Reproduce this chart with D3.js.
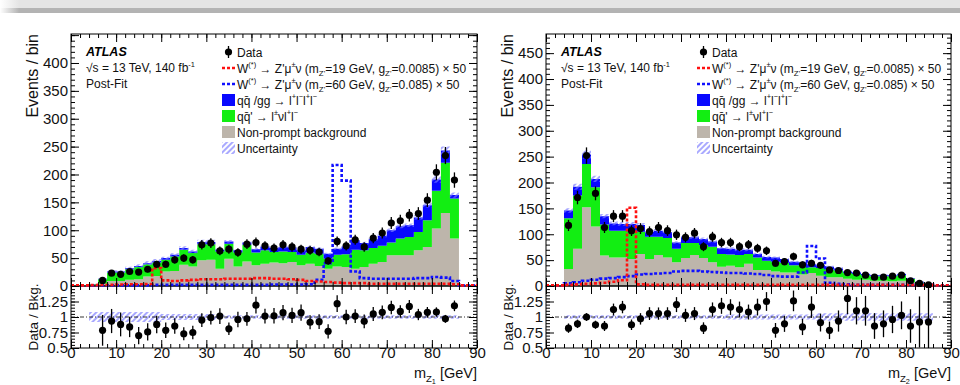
<!DOCTYPE html>
<html>
<head>
<meta charset="utf-8">
<script src="https://cdn.jsdelivr.net/npm/d3@7"></script>
<style>
  body { margin: 0; background: #fff; }
  svg { display: block; }
</style>
</head>
<body>
<svg id="fig" width="960" height="385"></svg>
<script>
// ---------- binning (GeV) ----------
const bkgBinLow = [4,6,8,10,12,14,16,18,20,22,24,26,28,30,32,34,36,38,40,42,44,46,48,50,52,54,56,58,60,62,64,66,68,70,72,74,76,78,80,82,84];
const sigBinLow = [0,2,4,6,8,10,12,14,16,18,20,22,24,26,28,30,32,34,36,38,40,42,44,46,48,50,52,54,56,58,60,62,64,66,68,70,72,74,76,78,80,82,84,86,88];
const binWidth = 2;
const xMax = 90;

// ---------- m_Z1 panel ----------
const z1NonPrompt = [1,4,9,9,11,12,17,18,26,27,38,35,46,47,31,49,35,44,37,40,42,41,43,37,40,36,31,35,34,31,34,40,43,55,55,55,64,70,103,131,85];
const z1WZ        = [2,8,15,15,19,22,22,24,21,26,27,24,29,28,31,27,25,30,23,24,19,21,18,19,20,22,18,21,23,34,30,28,29,23,30,33,33,48,68,90,72];
const z1ZZ        = [0.5,1,2,2,2,2,2,3,3,3,3,3,4,4,3,4,4,4,6,7,7,8,8,8,10,9,9,11,14,17,13,16,18,22,22,21,26,27,20,22,6];
const z1Unc       = [0.08,0.08,0.08,0.08,0.08,0.08,0.08,0.08,0.05,0.05,0.05,0.05,0.05,0.05,0.03,0.03,0.03,0.03,0.03,0.03,0.03,0.03,0.03,0.03,0.03,0.03,0.03,0.03,0.03,0.03,0.03,0.03,0.03,0.03,0.03,0.03,0.03,0.03,0.03,0.03,0.03];
const z1DataX     = [7,9,11,13,15,17,19,21,23,25,27,29,31,33,35,37,39,41,43,45,47,49,51,53,55,57,59,61,63,65,67,69,71,73,75,77,79,81,83,85];
const z1Data      = [10,23,21,26,25,30,39,39,47,50,47,74,77,63,66,60,75,78,72,68,74,70,66,64,61,45,80,72,83,70,86,95,113,117,127,130,154,204,234,190];
const z1Ratio     = [0.785,0.935,0.88,0.84,0.70,0.76,0.88,0.785,0.855,0.73,0.75,0.95,0.99,1.015,0.81,0.96,0.97,1.19,1.015,1.02,1.07,1.025,1.07,0.915,0.925,0.77,1.215,1.0,1.015,0.93,1.05,1.075,1.155,1.09,1.17,1.04,1.075,1.08,0.97,1.18];
const z1Sig19     = [0,0,0.5,1,1,1.5,2,2,2.5,31,9,8,9,10,11,11,11,12,12,12,13,13,12,12,11,10,8,7,6,5,4,4,4,3,3,3,3,3,3,3,3,3,2,0,0];
const z1Sig60     = [0,0,0,0,0,0,0,0,0,1,1,1,1,1,1,1,1,1,1,1,1,1,1.5,1.5,1.5,1.5,2,10,40,216,188,25,13,12,12,12,12,12,13,13,15,14,8,0,0];

// ---------- m_Z2 panel ----------
const z2NonPrompt = [33,72,152,115,59,55,55,52,62,52,60,55,46,54,60,54,46,37,39,36,43,31,31,28,26,26,22,25,20,17,17,14,12,12,10,10,9,10,7,4,2];
const z2WZ        = [98,103,84,76,60,52,52,53,43,43,35,38,26,29,23,25,30,25,22,24,19,24,18,19,19,14,18,11,15,15,13,11,11,9,9,9,10,11,7,3,1];
const z2ZZ        = [15,17,18,16,16,14,13,15,13,10,12,11,12,11,11,12,10,11,11,10,8,7,7,8,7,7,6,6,5,5,4,3,3,2,2,2,2,2,1,1,0.5];
const z2Unc       = [0.03,0.03,0.03,0.03,0.03,0.03,0.03,0.03,0.03,0.03,0.03,0.03,0.03,0.03,0.03,0.03,0.03,0.03,0.04,0.04,0.04,0.04,0.04,0.04,0.04,0.04,0.04,0.04,0.06,0.06,0.06,0.06,0.06,0.06,0.06,0.06,0.06,0.06,0.06,0.06,0.06];
const z2DataX     = [5,7,9,11,13,15,17,19,21,23,25,27,29,31,33,35,37,39,41,43,45,47,49,51,53,55,57,59,61,63,65,67,69,71,73,75,77,79,81,83,85];
const z2Data      = [117,171,252,179,113,135,135,107,111,105,113,107,99,94,102,76,95,84,84,76,80,73,68,44,47,57,41,44,40,31,30,26,25,21,17,17,19,21,10,5,2];
const z2Ratio     = [0.82,0.89,1.0,0.875,0.855,1.12,1.16,0.875,0.97,1.055,1.055,1.055,1.2,1.027,1.055,0.82,1.12,1.18,1.16,1.12,1.08,1.16,1.25,0.785,0.89,1.26,0.84,1.16,0.91,0.785,0.935,1.3,1.1,1.1,0.855,0.89,0.96,1.027,0.855,0.92,0.92];
const z2Sig19     = [0,0,1,2,3,4,5,7,10,150,2,1,1,1,1,1,1,1,1,1,1,1,1,1,1,1,1,1,1,1,1,1,1,1,1,1,1,1,1,1,1,1,1,0,0];
const z2Sig60     = [0,0,4,6,9,11,13,14,16,18,21,22,23,24,27,28,28,27,26,25,24,24,23,22,20,18,17,17,25,76,52,5,3,2,1,1,1,1,1,1,1,1,1,0,0];

// ---------- axis ticks ----------
const xMajorTicks = [0,10,20,30,40,50,60,70,80,90];
const ratioTickLabels = [0.5,0.75,1,1.25];
const ratioMajorTicks = [0.5,0.75,1,1.25,1.5];

// ---------- styling ----------
const FONT = '"Liberation Sans", Arial, Helvetica, sans-serif';
const COL = { np: "#bdb5ab", wz: "#12ee12", zz: "#0808ff", sig19: "#ff1010", sig60: "#1010ff" };
const MAIN_TOP = 34, MAIN_BOT = 286, RATIO_BOT = 348;

const svg = d3.select("#fig").attr("font-family", FONT);
const defs = svg.append("defs");

// header band across the top
const hg = defs.append("linearGradient").attr("id", "hdrFade").attr("x1", 0).attr("x2", 1).attr("y1", 0).attr("y2", 0);
hg.append("stop").attr("offset", "0").attr("stop-color", "#ffffff");
hg.append("stop").attr("offset", "0.02").attr("stop-color", "#e4e4e4");
hg.append("stop").attr("offset", "1").attr("stop-color", "#e4e4e4");
const hg2 = defs.append("linearGradient").attr("id", "hdrFade2").attr("x1", 0).attr("x2", 1).attr("y1", 0).attr("y2", 0);
hg2.append("stop").attr("offset", "0").attr("stop-color", "#ffffff");
hg2.append("stop").attr("offset", "0.02").attr("stop-color", "#b3b3b3");
hg2.append("stop").attr("offset", "1").attr("stop-color", "#b3b3b3");
svg.append("rect").attr("x", 0).attr("y", 0).attr("width", 960).attr("height", 8).attr("fill", "url(#hdrFade)");
svg.append("rect").attr("x", 0).attr("y", 8).attr("width", 960).attr("height", 5).attr("fill", "url(#hdrFade2)");

// diagonal hatch for the background uncertainty
const pat = defs.append("pattern").attr("id", "hatch")
  .attr("patternUnits", "userSpaceOnUse").attr("width", 4).attr("height", 4)
  .attr("patternTransform", "rotate(45)");
pat.append("line").attr("x1", 1).attr("y1", 0).attr("x2", 1).attr("y2", 4)
  .attr("stroke", "#7a7aff").attr("stroke-width", 1.3);

// rich text helper: parts = [[text, style]], style in {null, "sup", "sub", "subsub"}
function richText(sel, parts, size) {
  const shift = { sup: -0.42, sub: 0.28, subsub: 0.42 };
  const scale = { sup: 0.62, sub: 0.66, subsub: 0.5 };
  let cur = 0;
  parts.forEach(([t, s]) => {
    const target = s ? shift[s] * size : 0;
    sel.append("tspan").text(t)
      .attr("dy", (target - cur).toFixed(2))
      .attr("font-size", s ? size * scale[s] : size);
    cur = target;
  });
}

const legendItems = [
  { kind: "data", parts: [["Data"]] },
  { kind: "sig19", parts: [["W"], ["(*)", "sup"], [" → Z'μ"], ["±", "sup"], ["ν (m"], ["Z'", "sub"], ["=19 GeV, g"], ["Z'", "sub"], ["=0.0085) × 50"]] },
  { kind: "sig60", parts: [["W"], ["(*)", "sup"], [" → Z'μ"], ["±", "sup"], ["ν (m"], ["Z'", "sub"], ["=60 GeV, g"], ["Z'", "sub"], ["=0.085) × 50"]] },
  { kind: "zz", parts: [["qq̄ /gg → l"], ["+", "sup"], ["l"], ["−", "sup"], ["l"], ["+", "sup"], ["l"], ["−", "sup"]] },
  { kind: "wz", parts: [["qq̄' → l"], ["±", "sup"], ["νl"], ["+", "sup"], ["l"], ["−", "sup"]] },
  { kind: "np", parts: [["Non-prompt background"]] },
  { kind: "unc", parts: [["Uncertainty"]] }
];

function drawPanel(p) {
  const x = d3.scaleLinear().domain([0, xMax]).range([p.x0, p.x1]);
  const y = d3.scaleLinear().domain([0, p.yMax]).range([MAIN_BOT, MAIN_TOP]);
  const yr = d3.scaleLinear().domain([0.5, 1.5]).range([RATIO_BOT, MAIN_BOT]);
  const g = svg.append("g");

  const cm = defs.append("clipPath").attr("id", "clipM" + p.id);
  cm.append("rect").attr("x", p.x0).attr("y", MAIN_TOP).attr("width", p.x1 - p.x0).attr("height", MAIN_BOT - MAIN_TOP + 2);
  const cr = defs.append("clipPath").attr("id", "clipR" + p.id);
  cr.append("rect").attr("x", p.x0).attr("y", MAIN_BOT).attr("width", p.x1 - p.x0).attr("height", RATIO_BOT - MAIN_BOT);

  const mg = g.append("g").attr("clip-path", `url(#clipM${p.id})`);
  const rg = g.append("g").attr("clip-path", `url(#clipR${p.id})`);

  // stacked backgrounds
  const rows = bkgBinLow.map((lo, i) => ({ lo, np: p.np[i], wz: p.wz[i], zz: p.zz[i], unc: p.unc[i] }));
  rows.push(Object.assign({}, rows[rows.length - 1], { lo: bkgBinLow[bkgBinLow.length - 1] + binWidth }));
  const series = d3.stack().keys(["np", "wz", "zz"])(rows);
  const stackArea = d3.area().curve(d3.curveStepAfter)
    .x(d => x(d.data.lo)).y0(d => y(d[0])).y1(d => y(d[1]));
  mg.selectAll("path.stk").data(series).join("path").attr("class", "stk")
    .attr("fill", d => COL[d.key]).attr("d", stackArea);

  // uncertainty band on the total
  const total = d => d.np + d.wz + d.zz;
  mg.append("path").attr("fill", "url(#hatch)")
    .attr("d", d3.area().curve(d3.curveStepAfter).x(d => x(d.lo))
      .y0(d => y(total(d) * (1 - d.unc))).y1(d => y(total(d) * (1 + d.unc)))(rows));

  // frames
  g.append("rect").attr("x", p.x0).attr("y", MAIN_TOP).attr("width", p.x1 - p.x0).attr("height", MAIN_BOT - MAIN_TOP)
    .attr("fill", "none").attr("stroke", "#000").attr("stroke-width", 1);
  g.append("rect").attr("x", p.x0).attr("y", MAIN_BOT).attr("width", p.x1 - p.x0).attr("height", RATIO_BOT - MAIN_BOT)
    .attr("fill", "none").attr("stroke", "#000").attr("stroke-width", 1);

  // signal histograms (dashed outlines), drawn over the frame baseline
  const sg = g.append("g").attr("clip-path", `url(#clipM${p.id})`);
  const sigRows = vals => {
    const r = sigBinLow.map((lo, i) => ({ lo, v: vals[i] }));
    r.push({ lo: xMax, v: vals[vals.length - 1] });
    return r;
  };
  const sigLine = d3.line().curve(d3.curveStepAfter).x(d => x(d.lo)).y(d => y(d.v) - 0.6);
  [["sig60", p.sig60], ["sig19", p.sig19]].forEach(([k, vals]) => {
    sg.append("path").attr("fill", "none").attr("stroke", COL[k]).attr("stroke-width", 2.6)
      .attr("stroke-dasharray", "3 2").attr("d", sigLine(sigRows(vals)));
  });

  // data with Poisson errors
  const pts = p.dataX.map((c, i) => ({ c, n: p.data[i], r: p.ratio[i] }));
  const dg = sg.append("g");
  dg.selectAll("line").data(pts).join("line")
    .attr("x1", d => x(d.c)).attr("x2", d => x(d.c))
    .attr("y1", d => y(d.n + Math.sqrt(d.n))).attr("y2", d => y(Math.max(0, d.n - Math.sqrt(d.n))))
    .attr("stroke", "#000").attr("stroke-width", 1.3);
  dg.selectAll("circle").data(pts).join("circle")
    .attr("cx", d => x(d.c)).attr("cy", d => y(d.n)).attr("r", 3.6).attr("fill", "#000");

  // ratio panel
  const rRows = rows.map(d => ({ lo: d.lo, unc: d.unc }));
  rg.append("path").attr("fill", "url(#hatch)")
    .attr("d", d3.area().curve(d3.curveStepAfter).x(d => x(d.lo))
      .y0(d => yr(1 - d.unc)).y1(d => yr(1 + d.unc))(rRows));
  rg.append("line").attr("x1", p.x0).attr("x2", p.x1).attr("y1", yr(1)).attr("y2", yr(1))
    .attr("stroke", "#000").attr("stroke-width", 0.8).attr("stroke-dasharray", "4 2 1 2");
  rg.selectAll("line.err").data(pts).join("line").attr("class", "err")
    .attr("x1", d => x(d.c)).attr("x2", d => x(d.c))
    .attr("y1", d => yr(d.r + d.r / Math.sqrt(d.n))).attr("y2", d => yr(d.r - d.r / Math.sqrt(d.n)))
    .attr("stroke", "#000").attr("stroke-width", 1.3);
  rg.selectAll("circle").data(pts).join("circle")
    .attr("cx", d => x(d.c)).attr("cy", d => yr(d.r)).attr("r", 3.6).attr("fill", "#000");

  // axes (ticks pointing inwards on all sides)
  const styleAxis = sel => {
    sel.select(".domain").remove();
    sel.attr("font-family", FONT).attr("font-size", 15);
    sel.selectAll("line").attr("stroke", "#000");
    sel.selectAll("text").attr("fill", "#111");
  };
  const xMinor = x.ticks(45);
  const addX = (y0, maker, labels) => {
    g.append("g").attr("transform", `translate(0,${y0})`)
      .call(maker(x).tickValues(xMinor).tickSizeInner(-4).tickSizeOuter(0).tickFormat("")).call(styleAxis);
    g.append("g").attr("transform", `translate(0,${y0})`)
      .call(maker(x).tickValues(xMajorTicks).tickSizeInner(-8).tickSizeOuter(0)
        .tickPadding(-1).tickFormat(labels ? d3.format("d") : "")).call(styleAxis);
  };
  addX(MAIN_TOP, d3.axisTop, false);
  addX(MAIN_BOT, d3.axisBottom, false);
  addX(MAIN_BOT, d3.axisTop, false);
  addX(RATIO_BOT, d3.axisBottom, true);

  const yMinor = y.ticks(45);
  const yMajor = y.ticks(9);
  [[p.x0, d3.axisLeft, true], [p.x1, d3.axisRight, false]].forEach(([xx, maker, lab]) => {
    g.append("g").attr("transform", `translate(${xx},0)`)
      .call(maker(y).tickValues(yMinor).tickSizeInner(-4).tickSizeOuter(0).tickFormat("")).call(styleAxis);
    g.append("g").attr("transform", `translate(${xx},0)`)
      .call(maker(y).tickValues(yMajor).tickSizeInner(-8).tickSizeOuter(0).tickPadding(3)
        .tickFormat(v => (lab && p.yLabels.includes(v)) ? String(v) : "")).call(styleAxis);
    g.append("g").attr("transform", `translate(${xx},0)`)
      .call(maker(yr).tickValues(yr.ticks(20)).tickSizeInner(-4).tickSizeOuter(0).tickFormat("")).call(styleAxis);
    g.append("g").attr("transform", `translate(${xx},0)`)
      .call(maker(yr).tickValues(ratioMajorTicks).tickSizeInner(-8).tickSizeOuter(0).tickPadding(3)
        .tickFormat(v => (lab && ratioTickLabels.includes(v)) ? String(v) : "")).call(styleAxis);
  });

  // axis titles
  g.append("text").attr("transform", `translate(${p.x0 - 33},${MAIN_TOP}) rotate(-90)`)
    .attr("text-anchor", "end").attr("font-size", 16).attr("fill", "#111").text("Events / bin");
  g.append("text").attr("transform", `translate(${p.x0 - 33},${(MAIN_BOT + RATIO_BOT) / 2}) rotate(-90)`)
    .attr("text-anchor", "middle").attr("font-size", 13.5).attr("fill", "#111").text("Data / Bkg.");
  const xt = g.append("text").attr("x", p.x1).attr("y", 378).attr("text-anchor", "end").attr("fill", "#111");
  richText(xt, [["m"], ["Z", "sub"], [p.zIndex, "subsub"], [" [GeV]", null]], 14.5);

  // ATLAS label
  const lx = p.x0 + 15;
  g.append("text").attr("x", lx).attr("y", 56).attr("font-size", 12.5).attr("font-weight", "bold")
    .attr("font-style", "italic").attr("fill", "#000").text("ATLAS");
  richText(g.append("text").attr("x", lx).attr("y", 72).attr("fill", "#111"),
    [["√s = 13 TeV, 140 fb"], ["-1", "sup"]], 12);
  g.append("text").attr("x", lx).attr("y", 88).attr("font-size", 12).attr("fill", "#111").text("Post-Fit");

  // legend
  const bx = p.x0 + 151, tx = p.x0 + 166;
  legendItems.forEach((it, i) => {
    const cy = 52 + i * 16;
    if (it.kind === "data") {
      g.append("line").attr("x1", bx + 6.5).attr("x2", bx + 6.5).attr("y1", cy - 6).attr("y2", cy + 6)
        .attr("stroke", "#000").attr("stroke-width", 1.3);
      g.append("circle").attr("cx", bx + 6.5).attr("cy", cy).attr("r", 3.6).attr("fill", "#000");
    } else if (it.kind === "sig19" || it.kind === "sig60") {
      g.append("line").attr("x1", bx).attr("x2", bx + 14).attr("y1", cy).attr("y2", cy)
        .attr("stroke", COL[it.kind]).attr("stroke-width", 2.6).attr("stroke-dasharray", "3 2");
    } else {
      g.append("rect").attr("x", bx).attr("y", cy - 6).attr("width", 13).attr("height", 12)
        .attr("fill", it.kind === "unc" ? "url(#hatch)" : COL[it.kind]);
    }
    richText(g.append("text").attr("x", tx).attr("y", cy + 4.5).attr("fill", "#111"), it.parts, 12);
  });
}

drawPanel({
  id: 1, x0: 71, x1: 477, yMax: 452, zIndex: "1",
  yLabels: [0,50,100,150,200,250,300,350,400],
  np: z1NonPrompt, wz: z1WZ, zz: z1ZZ, unc: z1Unc,
  dataX: z1DataX, data: z1Data, ratio: z1Ratio, sig19: z1Sig19, sig60: z1Sig60
});
drawPanel({
  id: 2, x0: 546, x1: 951, yMax: 487, zIndex: "2",
  yLabels: [0,50,100,150,200,250,300,350,400,450],
  np: z2NonPrompt, wz: z2WZ, zz: z2ZZ, unc: z2Unc,
  dataX: z2DataX, data: z2Data, ratio: z2Ratio, sig19: z2Sig19, sig60: z2Sig60
});
</script>
</body>
</html>
